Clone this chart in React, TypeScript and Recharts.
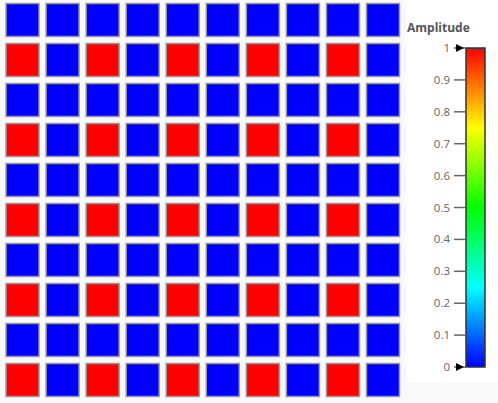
import React from "react";
import { ScatterChart, Scatter, XAxis, YAxis, BarChart, Bar } from "recharts";

// 10x10 amplitude grid (row 0 = top)
const row0 = [0, 0, 0, 0, 0, 0, 0, 0, 0, 0];
const row1 = [1, 0, 1, 0, 1, 0, 1, 0, 1, 0];
const row2 = [0, 0, 0, 0, 0, 0, 0, 0, 0, 0];
const row3 = [1, 0, 1, 0, 1, 0, 1, 0, 1, 0];
const row4 = [0, 0, 0, 0, 0, 0, 0, 0, 0, 0];
const row5 = [1, 0, 1, 0, 1, 0, 1, 0, 1, 0];
const row6 = [0, 0, 0, 0, 0, 0, 0, 0, 0, 0];
const row7 = [1, 0, 1, 0, 1, 0, 1, 0, 1, 0];
const row8 = [0, 0, 0, 0, 0, 0, 0, 0, 0, 0];
const row9 = [1, 0, 1, 0, 1, 0, 1, 0, 1, 0];
const gridRows = [row0, row1, row2, row3, row4, row5, row6, row7, row8, row9];

const colorTicks = [0, 0.1, 0.2, 0.3, 0.4, 0.5, 0.6, 0.7, 0.8, 0.9, 1];
const colorStops = [
  { offset: 0, color: "#0000ff" },
  { offset: 0.25, color: "#00ffff" },
  { offset: 0.5, color: "#00ff00" },
  { offset: 0.75, color: "#ffff00" },
  { offset: 1, color: "#ff0000" },
];
const legendTitle = "Amplitude";
const colorbarData = [{ name: "amp", value: 1 }];

const cells: { x: number; y: number; v: number }[] = [];
gridRows.forEach((r, yi) => r.forEach((v, xi) => cells.push({ x: xi, y: yi, v })));

function colorFor(v: number) {
  return v >= 0.5 ? "#ff0000" : "#0000ff";
}

const CellShape = (props: any) => {
  const { cx, cy, payload } = props;
  const s = 33;
  return (
    <rect
      x={cx - s / 2}
      y={cy - s / 2}
      width={s}
      height={s}
      fill={colorFor(payload.v)}
      stroke="#9a9a9a"
      strokeWidth={1.5}
    />
  );
};

const ColorTick = (props: any) => {
  const { x, y, payload } = props;
  const v = payload.value;
  const label = v === 0 || v === 1 ? String(v) : v.toFixed(1);
  return (
    <g>
      <text
        x={x}
        y={y}
        dy={4}
        textAnchor="end"
        fontSize={11.5}
        fill="#666"
        fontFamily="'Open Sans', sans-serif"
      >
        {label}
      </text>
      {(v === 0 || v === 1) && (
        <polygon
          points={`${x + 6},${y - 4} ${x + 14},${y} ${x + 6},${y + 4}`}
          fill="#000"
        />
      )}
    </g>
  );
};

export default function App() {
  return (
    <div
      style={{
        position: "absolute",
        left: 0,
        top: 0,
        width: 498,
        height: 403,
        background: "#f9f9f9",
        overflow: "hidden",
      }}
    >
      <div
        style={{
          position: "absolute",
          left: 407,
          top: 0,
          width: 91,
          height: 382,
          background: "#ffffff",
        }}
      />
      <div style={{ position: "absolute", left: 0, top: 0 }}>
        <ScatterChart
          width={405}
          height={403}
          margin={{ top: 0, right: 2, bottom: 3, left: 2.5 }}
        >
          <XAxis type="number" dataKey="x" domain={[-0.5, 9.5]} hide />
          <YAxis type="number" dataKey="y" domain={[-0.5, 9.5]} reversed hide />
          <Scatter data={cells} shape={<CellShape />} isAnimationActive={false} />
        </ScatterChart>
      </div>
      <div
        style={{
          position: "absolute",
          left: 407,
          top: 20,
          fontFamily: "'Open Sans', sans-serif",
          fontWeight: "bold",
          fontSize: 12,
          color: "#555",
          lineHeight: "16px",
        }}
      >
        {legendTitle}
      </div>
      <div style={{ position: "absolute", left: 400, top: 0 }}>
        <BarChart
          width={98}
          height={403}
          data={colorbarData}
          margin={{ top: 48, right: 13, bottom: 36, left: 0 }}
          barCategoryGap={0}
        >
          <defs>
            <linearGradient id="ampGrad" x1="0" y1="1" x2="0" y2="0">
              {colorStops.map((s) => (
                <stop key={s.offset} offset={s.offset} stopColor={s.color} />
              ))}
            </linearGradient>
          </defs>
          <XAxis dataKey="name" hide />
          <YAxis
            type="number"
            domain={[0, 1]}
            ticks={colorTicks}
            width={66}
            axisLine={false}
            tickSize={12}
            tickMargin={4}
            tickLine={{ stroke: "#666", strokeWidth: 1.5 }}
            tick={<ColorTick />}
            interval={0}
          />
          <Bar
            dataKey="value"
            fill="url(#ampGrad)"
            stroke="#333"
            strokeWidth={1.5}
            isAnimationActive={false}
          />
        </BarChart>
      </div>
    </div>
  );
}
